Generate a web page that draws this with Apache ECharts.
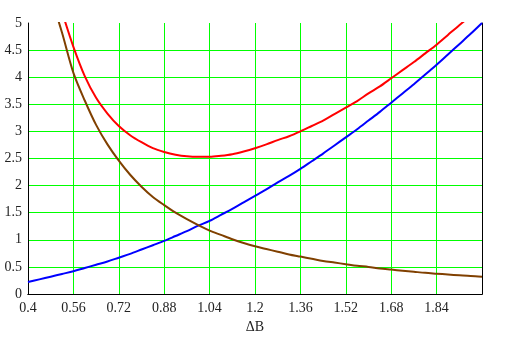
<!DOCTYPE html>
<html>
<head>
<meta charset="utf-8">
<script src="https://cdn.jsdelivr.net/npm/echarts@6/dist/echarts.min.js"></script>
<style>
  html, body { margin: 0; padding: 0; background: #fff; }
  #chart { width: 527px; height: 341px; }
</style>
</head>
<body>
<div id="chart"></div>
<script>
// ΔB sample points
const deltaB = [0.40, 0.44, 0.48, 0.52, 0.56, 0.60, 0.64, 0.68, 0.72, 0.76,
                0.80, 0.84, 0.88, 0.92, 0.96, 1.00, 1.04, 1.08, 1.12, 1.16,
                1.20, 1.24, 1.28, 1.32, 1.36, 1.40, 1.44, 1.48, 1.52, 1.56,
                1.60, 1.64, 1.68, 1.72, 1.76, 1.80, 1.84, 1.88, 1.92, 1.96, 2.00];

// rising term (blue)
const blueVals = [0.22, 0.27, 0.32, 0.37, 0.42, 0.48, 0.54, 0.60, 0.67, 0.74,
                  0.82, 0.90, 0.98, 1.07, 1.16, 1.26, 1.35, 1.46, 1.57, 1.69,
                  1.81, 1.93, 2.06, 2.18, 2.31, 2.45, 2.59, 2.74, 2.89, 3.04,
                  3.20, 3.36, 3.53, 3.70, 3.87, 4.05, 4.23, 4.42, 4.61, 4.80, 5.00];

// falling term (brown)
const brownVals = [null, null, 5.50, 4.82, 4.08, 3.57, 3.12, 2.76, 2.46, 2.20,
                   1.98, 1.79, 1.64, 1.50, 1.38, 1.27, 1.17, 1.09, 1.01, 0.94,
                   0.88, 0.83, 0.78, 0.73, 0.69, 0.65, 0.61, 0.58, 0.55, 0.52,
                   0.50, 0.47, 0.45, 0.43, 0.41, 0.39, 0.375, 0.36, 0.345, 0.33, 0.32];

// total (red)
const redVals = [null, null, 5.85, 5.20, 4.56, 4.02, 3.62, 3.33, 3.10, 2.93,
                 2.80, 2.69, 2.62, 2.57, 2.54, 2.53, 2.53, 2.55, 2.58, 2.63,
                 2.69, 2.76, 2.84, 2.91, 3.00, 3.10, 3.20, 3.32, 3.44, 3.56,
                 3.70, 3.83, 3.98, 4.13, 4.28, 4.44, 4.60, 4.78, 4.96, 5.13, 5.32];

const xMin = 0.4, xMax = 2.0, xStep = 0.16;
const yMin = 0, yMax = 5, yStep = 0.5;

function pairs(vals) {
  return deltaB.map((x, i) => [x, vals[i]]);
}

const labelFont = { fontFamily: 'Liberation Serif', fontSize: 14, color: '#222' };
const frameLine = { show: true, lineStyle: { color: '#000', width: 1 } };

function curve(vals, color) {
  return {
    type: 'line', data: pairs(vals), showSymbol: false, clip: true,
    smooth: 0.3,
    lineStyle: { color: color, width: 2 }, itemStyle: { color: color }
  };
}

const chart = echarts.init(document.getElementById('chart'), null, { renderer: 'canvas' });

chart.setOption({
  animation: false,
  backgroundColor: '#fff',
  grid: { left: 28, right: 45, top: 23, bottom: 47, containLabel: false },
  xAxis: [
    {
      type: 'value', min: xMin, max: xMax, interval: xStep,
      name: 'ΔB', nameLocation: 'middle', nameGap: 25,
      nameTextStyle: labelFont,
      axisLine: frameLine, axisTick: { show: false },
      axisLabel: Object.assign({ margin: 7, showMaxLabel: false,
        formatter: v => String(+v.toFixed(2)) }, labelFont),
      splitLine: { show: true, showMinLine: false, showMaxLine: false,
        lineStyle: { color: '#00ff00', width: 1 } }
    },
    {
      type: 'value', position: 'top', min: xMin, max: xMax,
      axisLine: frameLine, axisTick: { show: false },
      axisLabel: { show: false }, splitLine: { show: false }
    }
  ],
  yAxis: [
    {
      type: 'value', min: yMin, max: yMax, interval: yStep,
      axisLine: frameLine, axisTick: { show: false },
      axisLabel: Object.assign({ margin: 6 }, labelFont),
      splitLine: { show: true, showMinLine: false, showMaxLine: false,
        lineStyle: { color: '#00ff00', width: 1 } }
    },
    {
      type: 'value', position: 'right', min: yMin, max: yMax,
      axisLine: frameLine, axisTick: { show: false },
      axisLabel: { show: false }, splitLine: { show: false }
    }
  ],
  series: [
    curve(blueVals, '#0000ff'),
    curve(brownVals, '#804000'),
    curve(redVals, '#ff0000')
  ]
});
</script>
</body>
</html>
